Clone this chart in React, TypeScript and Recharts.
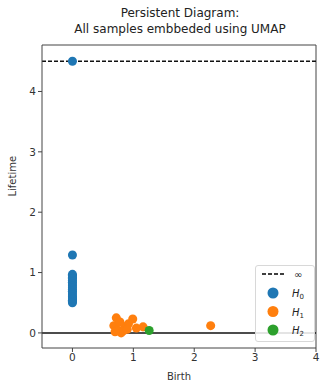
import React from 'react'
import {
  ScatterChart,
  Scatter,
  XAxis,
  YAxis,
  ZAxis,
  ReferenceLine,
} from 'recharts'

// persistence points: [birth, lifetime]
const h0Births = [0, 0, 0, 0, 0, 0, 0, 0, 0, 0, 0, 0, 0, 0, 0, 0, 0, 0, 0, 0, 0]
const h0Lifetimes = [4.5, 1.29, 0.97, 0.95, 0.92, 0.9, 0.87, 0.84, 0.81, 0.78, 0.75, 0.72, 0.69, 0.66, 0.63, 0.6, 0.58, 0.56, 0.54, 0.52, 0.5]

const h1Births = [0.72, 0.68, 0.74, 0.8, 0.86, 0.92, 0.99, 1.16, 0.78, 0.7, 0.84, 0.9, 1.05, 2.27]
const h1Lifetimes = [0.25, 0.12, 0.05, 0.0, 0.1, 0.15, 0.23, 0.1, 0.18, 0.02, 0.04, 0.06, 0.08, 0.12]

const h2Births = [1.26]
const h2Lifetimes = [0.04]

const xTicks = [0, 1, 2, 3, 4]
const yTicks = [0, 1, 2, 3, 4]

const X_DOMAIN = [-0.5, 4]
const Y_DOMAIN = [-0.25, 4.77]
const INF = 4.5

const toPoints = (xs: number[], ys: number[]) => xs.map((x, i) => ({ x, y: ys[i] }))

const FONT = 'DejaVu Sans, sans-serif'
const BLUE = '#1f77b4'
const ORANGE = '#ff7f0e'
const GREEN = '#2ca02c'

const LegendBox = () => {
  const items = [
    { color: BLUE, sub: '0' },
    { color: ORANGE, sub: '1' },
    { color: GREEN, sub: '2' },
  ]
  return (
    <div
      style={{
        position: 'absolute',
        left: 255,
        top: 265,
        width: 60,
        height: 77,
        background: 'rgba(255,255,255,0.85)',
        border: '1px solid #d8d8d8',
        borderRadius: 3,
        boxSizing: 'border-box',
      }}
    >
      <svg width={58} height={75} style={{ display: 'block' }}>
        <line x1={6} x2={28} y1={8} y2={8} stroke="#000" strokeWidth={1.5} strokeDasharray="4 2" />
        <text x={38} y={12} fontSize={10} fontFamily={FONT} fill="#222">∞</text>
        {items.map((it, i) => (
          <g key={it.sub}>
            <circle cx={17} cy={27 + i * 18.5} r={5.5} fill={it.color} />
            <text x={36} y={31 + i * 18.5} fontSize={10} fontStyle="italic" fontFamily={FONT} fill="#222">
              H
              <tspan fontSize={7} dy={2} fontStyle="normal">{it.sub}</tspan>
            </text>
          </g>
        ))}
      </svg>
    </div>
  )
}

const App: React.FC = () => {
  return (
    <div style={{ position: 'absolute', left: 0, top: 0, width: 320, height: 382, background: '#fff' }}>
      <svg width={320} height={40} style={{ position: 'absolute', left: 0, top: 0 }}>
        <text x={180} y={17} textAnchor="middle" fontSize={12} fontFamily={FONT} fill="#222">
          Persistent Diagram:
        </text>
        <text x={180} y={33} textAnchor="middle" fontSize={12} fontFamily={FONT} fill="#222">
          All samples embbeded using UMAP
        </text>
      </svg>
      <ScatterChart width={320} height={382} margin={{ top: 45, right: 4, bottom: 0, left: 0 }}>
        <XAxis
          type="number"
          dataKey="x"
          domain={X_DOMAIN}
          ticks={xTicks}
          allowDataOverflow
          height={34}
          stroke="#444"
          tickSize={4}
          tick={{ fontSize: 10.5, fontFamily: FONT, fill: '#333' }}
          label={{ value: 'Birth', position: 'insideBottom', offset: 2, fontSize: 10, fontFamily: FONT, fill: '#333' }}
        />
        <YAxis
          type="number"
          dataKey="y"
          domain={Y_DOMAIN}
          ticks={yTicks}
          allowDataOverflow
          width={42}
          stroke="#444"
          tickSize={4}
          tick={{ fontSize: 10.5, fontFamily: FONT, fill: '#333' }}
          label={{ value: 'Lifetime', angle: -90, position: 'insideLeft', offset: 12, fontSize: 10, fontFamily: FONT, fill: '#333' }}
        />
        <ZAxis range={[95, 95]} />
        <ReferenceLine y={Y_DOMAIN[1]} stroke="#444" strokeWidth={1} />
        <ReferenceLine x={X_DOMAIN[1]} stroke="#444" strokeWidth={1} />
        <ReferenceLine y={0} stroke="#111" strokeWidth={1.5} />
        <ReferenceLine y={INF} stroke="#111" strokeWidth={1.5} strokeDasharray="4 2" />
        <Scatter data={toPoints(h0Births, h0Lifetimes)} fill={BLUE} isAnimationActive={false} />
        <Scatter data={toPoints(h1Births, h1Lifetimes)} fill={ORANGE} isAnimationActive={false} />
        <Scatter data={toPoints(h2Births, h2Lifetimes)} fill={GREEN} isAnimationActive={false} />
      </ScatterChart>
      <LegendBox />
    </div>
  )
}

export default App
